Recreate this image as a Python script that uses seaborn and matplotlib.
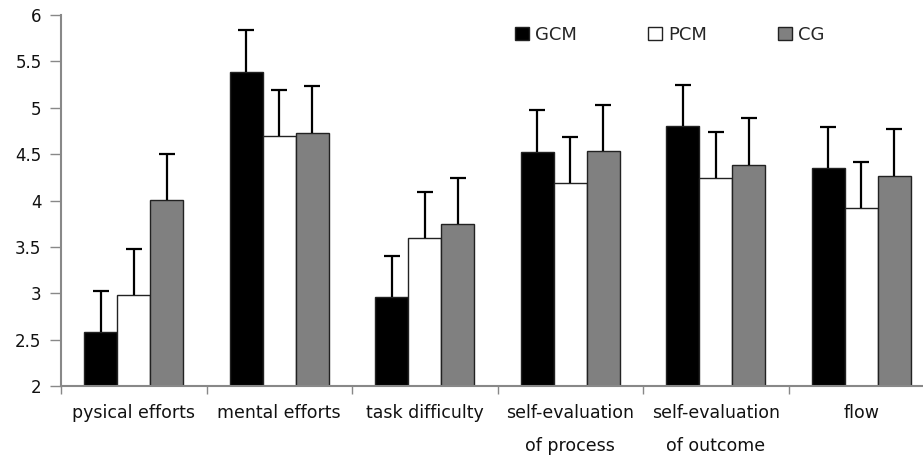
import matplotlib
matplotlib.use("Agg")
import matplotlib.pyplot as plt
import seaborn as sns
import pandas as pd
import numpy as np

categories = ["pysical efforts", "mental efforts", "task difficulty",
              "self-evaluation\nof process", "self-evaluation\nof outcome", "flow"]
groups = ["GCM", "PCM", "CG"]
gcm_mean = [2.58, 5.39, 2.96, 4.52, 4.80, 4.35]
gcm_sd = [0.44, 0.45, 0.44, 0.46, 0.45, 0.44]
pcm_mean = [2.98, 4.70, 3.60, 4.19, 4.24, 3.92]
pcm_sd = [0.50, 0.49, 0.49, 0.49, 0.50, 0.50]
cg_mean = [4.01, 4.73, 3.75, 4.53, 4.38, 4.26]
cg_sd = [0.49, 0.50, 0.49, 0.50, 0.51, 0.51]
y_ticks = [2, 2.5, 3, 3.5, 4, 4.5, 5, 5.5, 6]
y_tick_labels = ["2", "2.5", "3", "3.5", "4", "4.5", "5", "5.5", "6"]

means = {"GCM": gcm_mean, "PCM": pcm_mean, "CG": cg_mean}
sds = {"GCM": gcm_sd, "PCM": pcm_sd, "CG": cg_sd}
rows = []
for g in groups:
    for c, m, s in zip(categories, means[g], sds[g]):
        rows.append({"category": c, "group": g, "mean": m, "sd": s})
df = pd.DataFrame(rows)

sns.set_theme(style="white")
plt.rcParams['font.family'] = ['DejaVu Sans']

fig = plt.figure(figsize=(9.23, 4.57), dpi=100)
ax = fig.add_axes([61 / 923, 71 / 457, 873 / 923, 371 / 457])

palette = {"GCM": "#000000", "PCM": "#ffffff", "CG": "#808080"}
sns.barplot(data=df, x="category", y="mean", hue="group", order=categories,
            hue_order=groups, palette=palette, width=0.68, gap=0,
            errorbar=None, edgecolor="#222222", linewidth=1.0, ax=ax,
            saturation=1)

# error bars (upper only), positioned on the seaborn bars
for container, g in zip(ax.containers, groups):
    xs = [p.get_x() + p.get_width() / 2 for p in container.patches]
    tops = [p.get_height() + p.get_y() for p in container.patches]
    eb = ax.errorbar(xs, tops, yerr=[np.zeros(len(xs)), sds[g]], fmt="none",
                     ecolor="black", elinewidth=1.6, capsize=6, capthick=1.6,
                     zorder=3)
    caplines = eb[1]
    if len(caplines) == 2:
        caplines[0].remove()

ax.set_ylim(2, 6)
ax.set_xlim(-0.5, len(categories) - 0.5)
ax.set_yticks(y_ticks)
ax.set_yticklabels(y_tick_labels, fontsize=12, color="#111111")
ax.set_xticks(range(len(categories)))
ax.set_xticklabels(categories, fontsize=12.5, color="#111111", linespacing=2.1)
ax.set_xticks(np.arange(-0.5, len(categories), 1.0), minor=True)
ax.tick_params(axis="x", which="major", length=0, pad=13)
ax.tick_params(axis="x", which="minor", length=6, width=1, color="#888888",
               direction="out", bottom=True)
ax.tick_params(axis="y", which="major", length=8, width=1, color="#888888",
               direction="out", left=True, pad=6)
ax.set_xlabel("")
ax.set_ylabel("")
for side in ["top", "right"]:
    ax.spines[side].set_visible(False)
for side in ["left", "bottom"]:
    ax.spines[side].set_color("#888888")
    ax.spines[side].set_linewidth(1.5)

sns.move_legend(ax, "center left", bbox_to_anchor=(0.52, 0.946), ncol=3,
                frameon=False, title=None, fontsize=13, handlelength=0.75,
                handleheight=0.75, handletextpad=0.35, columnspacing=3.95,
                borderaxespad=0, borderpad=0)

fig.savefig("out.png", dpi=100)
